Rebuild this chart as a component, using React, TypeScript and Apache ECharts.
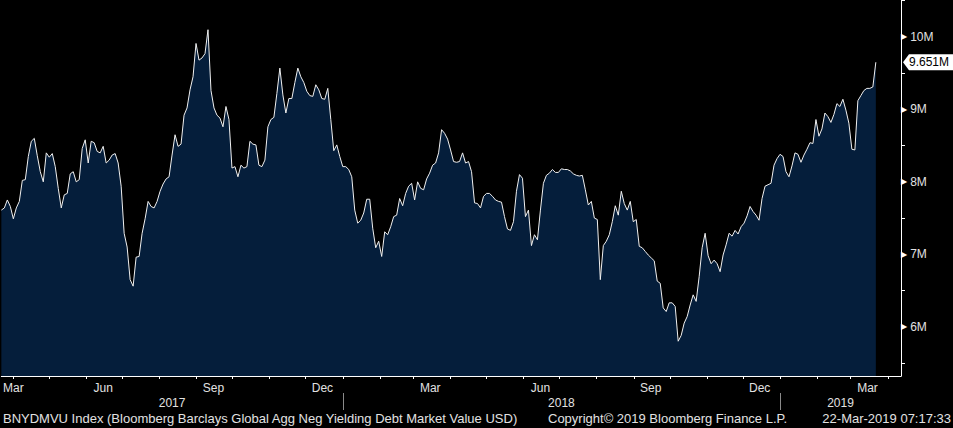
import { useEffect, useRef } from "react";
import * as echarts from "echarts";

const DAY = 86400000;

// Samples every 2.5 calendar days starting 22-Mar-2017 (in millions USD)
const startDate = new Date(2017, 2, 22).getTime();
const stepDays = 2.5;
const axisEndDate = new Date(2019, 3, 12).getTime();

const valuesSpring2017 = [
  7.61, 7.64, 7.75, 7.66, 7.49, 7.64, 7.73, 8.02, 8.03, 8.35,
  8.56, 8.6, 8.36, 8.14, 8.0, 8.4, 8.34, 8.39, 8.21, 7.91,
  7.64, 7.82, 7.84, 8.11, 8.14, 8.0, 8.03, 8.46, 8.58, 8.26,
  8.56, 8.54, 8.42, 8.4, 8.49, 8.26, 8.3, 8.37, 8.39, 8.26,
  7.94, 7.29, 7.1, 6.65, 6.56, 6.96, 6.97, 7.29, 7.49, 7.73,
  7.66, 7.64, 7.73, 7.87, 7.97, 8.04, 8.07, 8.37, 8.65, 8.49,
  8.52,
];
const valuesAutumn2017 = [
  8.92, 9.02, 9.27, 9.45, 9.91, 9.68, 9.71, 9.77, 10.1, 9.26,
  9.02, 8.92, 8.88, 8.76, 9.04, 8.86, 8.19, 8.21, 8.07, 8.23,
  8.19, 8.21, 8.56, 8.52, 8.51, 8.23, 8.21, 8.3, 8.76, 8.86,
  8.89, 9.22, 9.57, 9.2, 8.95, 9.15, 9.15, 9.37, 9.57, 9.45,
  9.37, 9.25, 9.19, 9.18, 9.34, 9.27, 9.15, 9.14, 9.29, 8.86,
  8.43, 8.51, 8.35, 8.21, 8.21, 8.17, 8.07, 7.61,
];
const valuesSpring2018 = [
  7.43, 7.47, 7.57, 7.76, 7.76, 7.36, 7.09, 7.18, 6.97, 7.31,
  7.27, 7.38, 7.52, 7.54, 7.77, 7.67, 7.84, 7.94, 7.98, 7.75,
  8.0, 7.91, 7.89, 8.04, 8.12, 8.23, 8.26, 8.4, 8.72, 8.67,
  8.59, 8.44, 8.28, 8.27, 8.28, 8.4, 8.26, 8.28, 8.14, 7.71,
  7.7, 7.64, 7.8, 7.84, 7.84, 7.8, 7.75, 7.73, 7.72, 7.52,
  7.35, 7.33, 7.45, 7.87, 8.1, 8.05, 7.52, 7.61,
];
const valuesAutumn2018 = [
  7.12, 7.27, 7.2, 7.61, 7.98, 8.09, 8.12, 8.17, 8.13, 8.13,
  8.18, 8.17, 8.17, 8.15, 8.11, 8.09, 8.08, 8.09, 7.89, 7.68,
  7.73, 7.5, 7.48, 6.65, 7.12, 7.18, 7.27, 7.45, 7.67, 7.54,
  7.87, 7.7, 7.61, 7.73, 7.45, 7.48, 7.11, 7.09, 7.04, 6.99,
  6.95, 6.91, 6.63, 6.6, 6.26, 6.21, 6.33, 6.33, 6.28, 5.8,
  5.88, 6.05, 6.14, 6.3, 6.44, 6.35, 6.69, 7.09, 7.29,
];
const valuesWinter2019 = [
  6.98, 6.87, 6.92, 6.87, 6.76, 6.99, 7.13, 7.29, 7.25, 7.33,
  7.28, 7.38, 7.43, 7.53, 7.66, 7.59, 7.54, 7.47, 7.77, 7.94,
  7.96, 7.98, 8.23, 8.32, 8.38, 8.35, 8.14, 8.07, 8.22, 8.4,
  8.38, 8.27, 8.37, 8.45, 8.54, 8.53, 8.86, 8.63, 8.73, 8.95,
  8.9, 8.82, 8.93, 9.08, 9.04, 9.14, 8.99, 8.81, 8.45, 8.44,
  9.12, 9.19, 9.26, 9.29, 9.29, 9.31, 9.651,
];

const values = [
  ...valuesSpring2017,
  ...valuesAutumn2017,
  ...valuesSpring2018,
  ...valuesAutumn2018,
  ...valuesWinter2019,
];
const lastValue = values[values.length - 1];

// month labels sit mid-month; the first one is nudged inside the plot
const monthLabelNames = ["Mar", "Jun", "Sep", "Dec", "Mar", "Jun", "Sep", "Dec", "Mar"];
const monthLabelDates = [
  [2017, 3, 1], [2017, 5, 15], [2017, 8, 15], [2017, 11, 15],
  [2018, 2, 15], [2018, 5, 15], [2018, 8, 15], [2018, 11, 15], [2019, 2, 15],
];
const yearNames = ["2017", "2018", "2019"];
const yearBreaks = [new Date(2018, 0, 1).getTime(), new Date(2019, 0, 1).getTime()];

const yMin = 5.32;
const yMax = 10.51;
const yLabelValues = [6, 7, 8, 9, 10];
const yMinorValues = [5.5, 6.5, 7.5, 8.5, 9.5, 10.5];

const footerIndex = "BNYDMVU Index (Bloomberg Barclays Global Agg Neg Yielding Debt Market Value USD)";
const footerCopyright = "Copyright\u00a9 2019 Bloomberg Finance L.P.";
const footerStamp = "22-Mar-2019 07:17:33";

const font = '"Liberation Sans", Arial, sans-serif';
const textColor = "#e2e2e2";

export default function App() {
  const chartRef = useRef<HTMLDivElement>(null);

  useEffect(() => {
    if (!chartRef.current) return;
    const chart = echarts.init(chartRef.current, null, { renderer: "svg" });

    const seriesData = values.map((v, i) => [startDate + i * stepDays * DAY, v]);

    const monthTicks: number[] = [];
    for (let m = 3; m <= 27; m++) monthTicks.push(new Date(2017, m, 1).getTime());
    const monthLabelTimes = monthLabelDates.map(([y, m, d]) => new Date(y, m, d).getTime());

    const spans = [startDate, ...yearBreaks, axisEndDate];
    const yearCenters = yearNames.map((_, i) => (spans[i] + spans[i + 1]) / 2);

    chart.setOption({
      animation: false,
      backgroundColor: "#000000",
      grid: { left: 0, right: 52, top: 0, bottom: 52 },
      xAxis: [
        {
          type: "value",
          min: startDate,
          max: axisEndDate,
          axisLine: { show: true, lineStyle: { color: "#ffffff", width: 1 } },
          axisTick: {
            show: true,
            length: 3,
            customValues: monthTicks,
            lineStyle: { color: "#ffffff" },
          },
          splitLine: { show: false },
          axisLabel: {
            customValues: monthLabelTimes,
            margin: 6,
            color: textColor,
            fontFamily: font,
            fontSize: 12,
            formatter: (v: number) => {
              const i = monthLabelTimes.findIndex((t) => Math.abs(t - v) < DAY);
              return i >= 0 ? monthLabelNames[i] : "";
            },
          },
        },
        {
          type: "value",
          min: startDate,
          max: axisEndDate,
          position: "bottom",
          offset: 17,
          axisLine: { show: false },
          axisTick: {
            show: true,
            length: 17,
            customValues: yearBreaks,
            lineStyle: { color: "#8a8a8a" },
          },
          splitLine: { show: false },
          axisLabel: {
            customValues: yearCenters,
            margin: 4,
            color: textColor,
            fontFamily: font,
            fontSize: 12,
            formatter: (v: number) => {
              const i = yearCenters.findIndex((t) => Math.abs(t - v) < DAY);
              return i >= 0 ? yearNames[i] : "";
            },
          },
        },
      ],
      yAxis: {
        type: "value",
        position: "right",
        min: yMin,
        max: yMax,
        axisLine: { show: true, lineStyle: { color: "#ffffff", width: 1 } },
        axisTick: {
          show: true,
          length: 4,
          customValues: yMinorValues,
          lineStyle: { color: "#ffffff" },
        },
        splitLine: { show: false },
        axisLabel: {
          customValues: yLabelValues,
          margin: 0,
          formatter: (v: number) => `{t|\u25B6}{v|${v}M}`,
          rich: {
            t: { fontSize: 8, color: "#ffffff", fontFamily: "DejaVu Sans" },
            v: { fontSize: 12, color: textColor, fontFamily: font, padding: [0, 0, 0, 3] },
          },
        },
      },
      series: [
        {
          type: "line",
          data: seriesData,
          showSymbol: false,
          symbol: "none",
          lineStyle: { color: "#f0f0f0", width: 1 },
          areaStyle: { color: "#051e3b", opacity: 1, origin: "start" },
          z: 2,
        },
      ],
    });

    const axisX = chart.getWidth() - 52;
    const W = chart.getWidth();
    const yLast = chart.convertToPixel({ yAxisIndex: 0 }, lastValue) as number;

    chart.setOption({
      graphic: [
        {
          type: "polygon",
          shape: {
            points: [
              [axisX + 2, yLast],
              [axisX + 8, yLast - 8],
              [W, yLast - 8],
              [W, yLast + 8],
              [axisX + 8, yLast + 8],
            ],
          },
          style: { fill: "#ffffff" },
          z: 10,
        },
        {
          type: "text",
          x: axisX + 8,
          y: yLast,
          style: {
            text: `${lastValue}M`,
            fill: "#000000",
            font: `12px ${font}`,
            verticalAlign: "middle",
          },
          z: 11,
        },
        {
          type: "text",
          left: 3,
          top: 412,
          style: { text: footerIndex, fill: textColor, font: `13px ${font}` },
        },
        {
          type: "text",
          left: 548,
          top: 412,
          style: { text: footerCopyright, fill: textColor, font: `13px ${font}` },
        },
        {
          type: "text",
          right: 2,
          top: 412,
          style: { text: footerStamp, fill: textColor, font: `13px ${font}` },
        },
      ],
    });

    return () => {
      chart.dispose();
    };
  }, []);

  return (
    <div
      style={{ position: "fixed", left: 0, top: 0, width: 953, height: 428, background: "#000000" }}
    >
      <div ref={chartRef} style={{ width: 953, height: 428 }} />
    </div>
  );
}
